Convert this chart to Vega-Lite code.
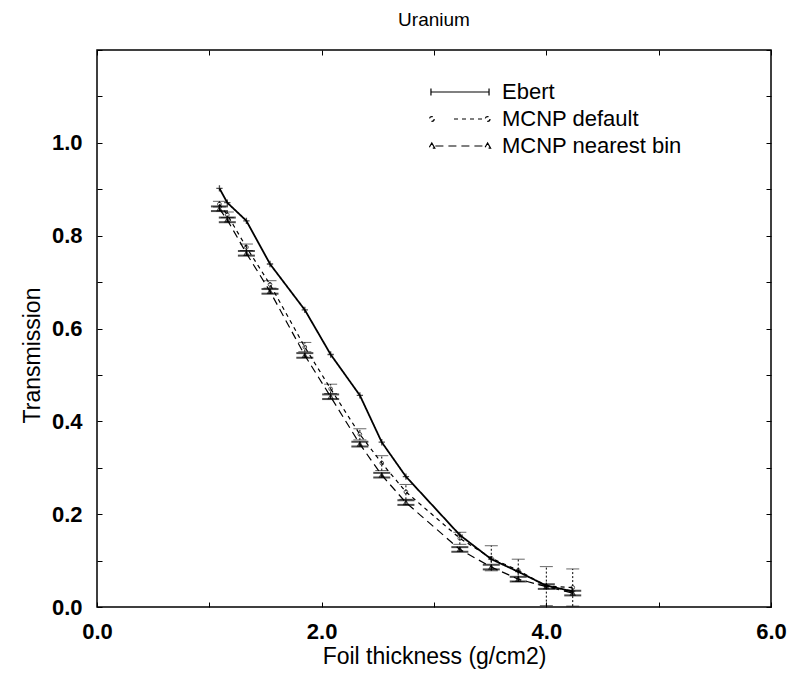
{
  "$schema": "https://vega.github.io/schema/vega-lite/v6.json",
  "width": 674,
  "height": 557,
  "autosize": {"type": "none"},
  "padding": {"left": 97, "top": 50, "right": 21, "bottom": 68},
  "background": "white",
  "title": {"text": "Uranium", "fontSize": 19, "font": "Liberation Sans", "fontWeight": "normal", "offset": 9, "anchor": "middle", "color": "black"},
  "config": {
    "view": {"stroke": "black", "strokeWidth": 1.5},
    "axis": {
      "domain": false, "grid": false, "ticks": true, "tickColor": "black", "tickSize": -5, "tickWidth": 1,
      "labelFont": "Liberation Sans", "labelFontSize": 22, "labelFontWeight": "bold", "labelColor": "black",
      "labelFlush": false, "labelOverlap": false, "labelBound": false,
      "titleFont": "Liberation Sans", "titleFontSize": 23, "titleFontWeight": "normal", "titleColor": "black"
    },
    "legend": {
      "orient": "none", "legendX": 371, "legendY": 29, "padding": 0, "rowPadding": 3, "labelLimit": 0,
      "labelFont": "Liberation Sans", "labelFontSize": 22, "labelColor": "black", "labelOffset": 8,
      "symbolSize": 576, "symbolStrokeWidth": 1.2, "symbolStrokeColor": "black", "symbolFillColor": "transparent", "symbolOpacity": 1
    }
  },
  "data": {"values": [
    {"series": "Ebert", "x": 1.09, "y": 0.902},
    {"series": "Ebert", "x": 1.16, "y": 0.871},
    {"series": "Ebert", "x": 1.33, "y": 0.832},
    {"series": "Ebert", "x": 1.54, "y": 0.739},
    {"series": "Ebert", "x": 1.85, "y": 0.640},
    {"series": "Ebert", "x": 2.08, "y": 0.544},
    {"series": "Ebert", "x": 2.34, "y": 0.456},
    {"series": "Ebert", "x": 2.535, "y": 0.355},
    {"series": "Ebert", "x": 2.75, "y": 0.281},
    {"series": "Ebert", "x": 3.23, "y": 0.155},
    {"series": "Ebert", "x": 3.51, "y": 0.103},
    {"series": "Ebert", "x": 3.75, "y": 0.076},
    {"series": "Ebert", "x": 4.0, "y": 0.046},
    {"series": "Ebert", "x": 4.23, "y": 0.034},
    {"series": "MCNP default", "x": 1.09, "y": 0.868, "lo": 0.862, "hi": 0.874},
    {"series": "MCNP default", "x": 1.16, "y": 0.845, "lo": 0.839, "hi": 0.851},
    {"series": "MCNP default", "x": 1.33, "y": 0.775, "lo": 0.768, "hi": 0.782},
    {"series": "MCNP default", "x": 1.54, "y": 0.695, "lo": 0.687, "hi": 0.703},
    {"series": "MCNP default", "x": 1.85, "y": 0.560, "lo": 0.550, "hi": 0.570},
    {"series": "MCNP default", "x": 2.08, "y": 0.470, "lo": 0.460, "hi": 0.480},
    {"series": "MCNP default", "x": 2.34, "y": 0.372, "lo": 0.360, "hi": 0.384},
    {"series": "MCNP default", "x": 2.535, "y": 0.310, "lo": 0.294, "hi": 0.326},
    {"series": "MCNP default", "x": 2.75, "y": 0.248, "lo": 0.232, "hi": 0.264},
    {"series": "MCNP default", "x": 3.23, "y": 0.148, "lo": 0.135, "hi": 0.161},
    {"series": "MCNP default", "x": 3.51, "y": 0.105, "lo": 0.078, "hi": 0.132},
    {"series": "MCNP default", "x": 3.75, "y": 0.079, "lo": 0.055, "hi": 0.103},
    {"series": "MCNP default", "x": 4.0, "y": 0.045, "lo": 0.003, "hi": 0.087},
    {"series": "MCNP default", "x": 4.235, "y": 0.042, "lo": 0.002, "hi": 0.082},
    {"series": "MCNP nearest bin", "x": 1.09, "y": 0.858, "lo": 0.853, "hi": 0.863},
    {"series": "MCNP nearest bin", "x": 1.16, "y": 0.834, "lo": 0.829, "hi": 0.839},
    {"series": "MCNP nearest bin", "x": 1.33, "y": 0.762, "lo": 0.757, "hi": 0.767},
    {"series": "MCNP nearest bin", "x": 1.54, "y": 0.680, "lo": 0.675, "hi": 0.685},
    {"series": "MCNP nearest bin", "x": 1.85, "y": 0.542, "lo": 0.537, "hi": 0.547},
    {"series": "MCNP nearest bin", "x": 2.08, "y": 0.453, "lo": 0.448, "hi": 0.458},
    {"series": "MCNP nearest bin", "x": 2.34, "y": 0.351, "lo": 0.346, "hi": 0.356},
    {"series": "MCNP nearest bin", "x": 2.535, "y": 0.284, "lo": 0.279, "hi": 0.289},
    {"series": "MCNP nearest bin", "x": 2.75, "y": 0.225, "lo": 0.220, "hi": 0.230},
    {"series": "MCNP nearest bin", "x": 3.23, "y": 0.124, "lo": 0.119, "hi": 0.129},
    {"series": "MCNP nearest bin", "x": 3.51, "y": 0.086, "lo": 0.081, "hi": 0.091},
    {"series": "MCNP nearest bin", "x": 3.75, "y": 0.060, "lo": 0.055, "hi": 0.065},
    {"series": "MCNP nearest bin", "x": 4.0, "y": 0.044, "lo": 0.039, "hi": 0.049},
    {"series": "MCNP nearest bin", "x": 4.235, "y": 0.030, "lo": 0.025, "hi": 0.035}
  ]},
  "layer": [
    {
      "mark": {"type": "line", "color": "black"},
      "encoding": {
        "x": {"field": "x", "type": "quantitative", "scale": {"domain": [0, 6], "nice": false, "zero": false},
              "axis": {"orient": "bottom", "values": [0, 1, 2, 3, 4, 5, 6], "labelExpr": "datum.value % 2 == 0 ? format(datum.value, '.1f') : ''", "labelPadding": 19, "title": "Foil thickness (g/cm2)", "titlePadding": 3}},
        "y": {"field": "y", "type": "quantitative", "scale": {"domain": [0, 1.2], "nice": false, "zero": false},
              "axis": {"orient": "left", "values": [0, 0.1, 0.2, 0.3, 0.4, 0.5, 0.6, 0.7, 0.8, 0.9, 1.0, 1.1, 1.2], "labelExpr": "(round(datum.value*10) % 2 == 0 && datum.value < 1.1) ? format(datum.value, '.1f') : ''", "labelPadding": 20, "title": "Transmission", "titlePadding": 7, "titleY": 305}},
        "detail": {"field": "series"},
        "strokeDash": {"field": "series", "type": "nominal", "legend": {"title": null},
          "scale": {"domain": ["Ebert", "MCNP default", "MCNP nearest bin"], "range": [[1, 0], [4, 4], [8, 5]]}},
        "strokeWidth": {"condition": {"test": "datum.series === 'Ebert'", "value": 1.8}, "value": 1.2}
      }
    },
    {
      "transform": [{"filter": "datum.x < 0"}],
      "mark": {"type": "point", "filled": false, "stroke": "black"},
      "encoding": {
        "x": {"field": "x", "type": "quantitative", "axis": {"orient": "top", "values": [0, 1, 2, 3, 4, 5, 6], "labels": false, "title": null}},
        "y": {"field": "y", "type": "quantitative", "axis": {"orient": "right", "values": [0, 0.1, 0.2, 0.3, 0.4, 0.5, 0.6, 0.7, 0.8, 0.9, 1.0, 1.1, 1.2], "labels": false, "title": null}},
        "shape": {"field": "series", "type": "nominal",
          "scale": {"domain": ["Ebert", "MCNP default", "MCNP nearest bin"],
                    "range": [
                      "M-4.17,0L0.67,0M-4.17,-0.3L-4.17,0.3M0.67,-0.3L0.67,0.3",
                      "M-3.9,0A0.2,0.2 0 1,1 -4.3,0A0.2,0.2 0 1,1 -3.9,0M-2.25,0L0.35,0M0.75,0A0.2,0.2 0 1,1 0.35,0A0.2,0.2 0 1,1 0.75,0",
                      "M-4.1,-0.25L-3.85,0.18L-4.35,0.18ZM-3.8,0L0.3,0M0.55,-0.25L0.8,0.18L0.3,0.18Z"
                    ]},
          "legend": {"title": null}},
        "strokeDash": {"field": "series", "type": "nominal",
          "scale": {"domain": ["Ebert", "MCNP default", "MCNP nearest bin"], "range": [[1, 0], [4, 4], [8, 5]]},
          "legend": {"title": null}}
      }
    },
    {
      "transform": [{"filter": "datum.series === 'Ebert'"}],
      "mark": {"type": "point", "shape": "M-1,0L1,0M0,-1L0,1", "size": 40, "filled": false, "stroke": "black", "strokeWidth": 1.3},
      "encoding": {
        "x": {"field": "x", "type": "quantitative", "axis": null},
        "y": {"field": "y", "type": "quantitative", "axis": null}
      }
    },
    {
      "transform": [{"filter": "datum.series === 'MCNP default'"}],
      "mark": {"type": "rule", "color": "black", "strokeWidth": 1, "strokeDash": [2, 2]},
      "encoding": {
        "x": {"field": "x", "type": "quantitative", "axis": null},
        "y": {"field": "lo", "type": "quantitative", "axis": null},
        "y2": {"field": "hi"}
      }
    },
    {
      "transform": [{"filter": "datum.series === 'MCNP default'"}],
      "mark": {"type": "tick", "orient": "horizontal", "color": "black", "size": 13, "thickness": 1, "opacity": 0.6},
      "encoding": {
        "x": {"field": "x", "type": "quantitative", "axis": null},
        "y": {"field": "lo", "type": "quantitative", "axis": null}
      }
    },
    {
      "transform": [{"filter": "datum.series === 'MCNP default'"}],
      "mark": {"type": "tick", "orient": "horizontal", "color": "black", "size": 13, "thickness": 1, "opacity": 0.6},
      "encoding": {
        "x": {"field": "x", "type": "quantitative", "axis": null},
        "y": {"field": "hi", "type": "quantitative", "axis": null}
      }
    },
    {
      "transform": [{"filter": "datum.series === 'MCNP default'"}],
      "mark": {"type": "point", "shape": "circle", "size": 14, "filled": false, "stroke": "black", "strokeWidth": 1},
      "encoding": {
        "x": {"field": "x", "type": "quantitative", "axis": null},
        "y": {"field": "y", "type": "quantitative", "axis": null}
      }
    },
    {
      "transform": [{"filter": "datum.series === 'MCNP nearest bin'"}],
      "mark": {"type": "rule", "color": "black", "strokeWidth": 1.2},
      "encoding": {
        "x": {"field": "x", "type": "quantitative", "axis": null},
        "y": {"field": "lo", "type": "quantitative", "axis": null},
        "y2": {"field": "hi"}
      }
    },
    {
      "transform": [{"filter": "datum.series === 'MCNP nearest bin'"}],
      "mark": {"type": "tick", "orient": "horizontal", "color": "black", "size": 17, "thickness": 2},
      "encoding": {
        "x": {"field": "x", "type": "quantitative", "axis": null},
        "y": {"field": "lo", "type": "quantitative", "axis": null}
      }
    },
    {
      "transform": [{"filter": "datum.series === 'MCNP nearest bin'"}],
      "mark": {"type": "tick", "orient": "horizontal", "color": "black", "size": 17, "thickness": 2},
      "encoding": {
        "x": {"field": "x", "type": "quantitative", "axis": null},
        "y": {"field": "hi", "type": "quantitative", "axis": null}
      }
    },
    {
      "transform": [{"filter": "datum.series === 'MCNP nearest bin'"}],
      "mark": {"type": "point", "shape": "triangle-up", "size": 22, "filled": false, "stroke": "black", "strokeWidth": 1.2},
      "encoding": {
        "x": {"field": "x", "type": "quantitative", "axis": null},
        "y": {"field": "y", "type": "quantitative", "axis": null}
      }
    }
  ],
  "resolve": {"axis": {"x": "independent", "y": "independent"}}
}
